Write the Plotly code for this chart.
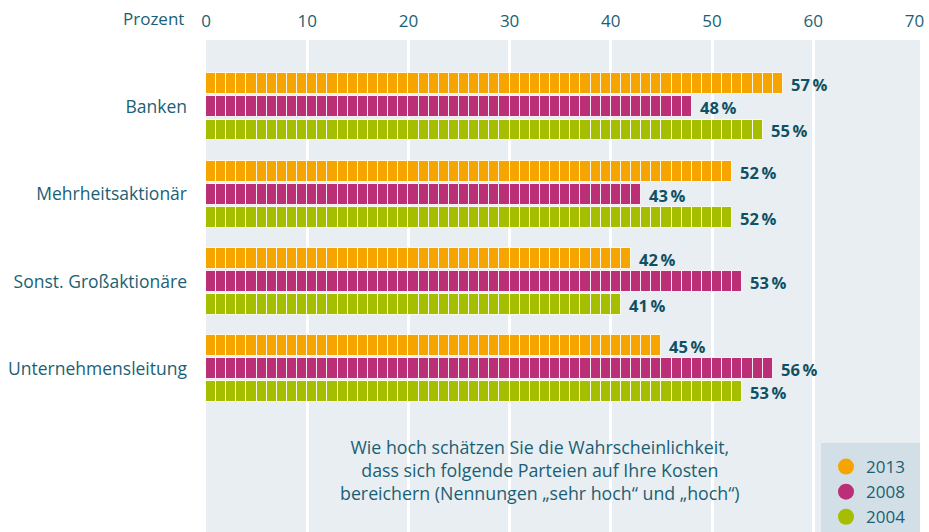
import plotly.graph_objects as go

categories = ["Banken", "Mehrheitsaktionär", "Sonst. Großaktionäre", "Unternehmensleitung"]
years = ["2013", "2008", "2004"]
values_2013 = [57, 52, 42, 45]
values_2008 = [48, 43, 53, 56]
values_2004 = [55, 52, 41, 53]
series_values = [values_2013, values_2008, values_2004]
colors = ["#f6a500", "#bb2f77", "#a5be00"]
x_ticks = [0, 10, 20, 30, 40, 50, 60, 70]
grid_values = [10, 20, 30, 40, 50, 60]

TEXT = "#1b5f74"
LABEL = "#0f5164"
FONT = "Open Sans"
X_RANGE = [0, 70.55]

offsets = [-0.2635, 0.0, 0.2635]
bar_h = 0.24

fig = go.Figure()
for s, (name, vals, col) in enumerate(zip(years, series_values, colors)):
    xs, bases, ys = [], [], []
    for c, v in enumerate(vals):
        for k in range(int(v)):
            xs.append(1)
            bases.append(k)
            ys.append(c + offsets[s])
    fig.add_trace(go.Bar(
        x=xs, base=bases, y=ys, orientation="h", width=bar_h,
        marker=dict(color=col, line=dict(color="rgba(255,255,255,0.85)", width=1)),
        showlegend=False, hoverinfo="skip",
    ))
    for c, v in enumerate(vals):
        fig.add_annotation(x=v, y=c + offsets[s], text=f"{v}\u2009%", showarrow=False,
                           xanchor="left", xshift=6, yshift=-1,
                           font=dict(family=FONT, size=16.5, color=LABEL, weight="bold"))

for name, col in zip(years, colors):
    fig.add_trace(go.Scatter(x=[None], y=[None], mode="markers", name=name,
                             marker=dict(color=col, size=17, symbol="circle")))

# axis carrying the tick labels (no grid)
fig.add_trace(go.Scatter(x=[None], y=[None], xaxis="x2", showlegend=False, hoverinfo="skip"))

# legend box
fig.add_shape(type="rect", xref="paper", yref="paper", x0=(821 - 206) / 714, x1=1.0,
              y0=0, y1=1 - (443 - 40) / 492, fillcolor="#d3dfe6", line=dict(width=0), layer="above")

fig.add_annotation(x=33, y=4.16, xref="x", yref="y",
                   text="Wie hoch schätzen Sie die Wahrscheinlichkeit,<br>dass sich folgende Parteien auf Ihre Kosten<br>bereichern (Nennungen „sehr hoch“ und „hoch“)",
                   showarrow=False, align="center",
                   font=dict(family=FONT, size=17.8, color=TEXT))

fig.add_annotation(xref="paper", yref="paper", x=-0.028, y=1, yanchor="bottom", xanchor="right",
                   yshift=8, text="Prozent", showarrow=False,
                   font=dict(family=FONT, size=17, color=TEXT))

fig.update_layout(
    width=929, height=532,
    margin=dict(l=206, r=9, t=40, b=0, autoexpand=False),
    paper_bgcolor="white", plot_bgcolor="#e9eef2",
    barmode="overlay", bargap=0,
    font=dict(family=FONT, color=TEXT),
    legend=dict(x=(826 - 206) / 714, y=1 - (449 - 40) / 492, xanchor="left", yanchor="top",
                bgcolor="rgba(0,0,0,0)", font=dict(family=FONT, size=17, color=TEXT),
                itemwidth=30, tracegroupgap=0),
    xaxis=dict(range=X_RANGE, tickvals=grid_values, showticklabels=False, showgrid=True,
               gridcolor="white", gridwidth=3, zeroline=False, showline=False, ticks="",
               fixedrange=True, automargin=False),
    xaxis2=dict(side="top", overlaying="x", range=X_RANGE, tickvals=x_ticks, showgrid=False,
                zeroline=False, showline=False,
                tickfont=dict(family=FONT, size=17, color=TEXT), ticks="", ticklabelstandoff=9,
                fixedrange=True, automargin=False),
    yaxis=dict(range=[4.868, -0.767], tickvals=[0, 1, 2, 3], ticktext=categories,
               showgrid=False, zeroline=False, showline=False, ticks="", automargin=False,
               fixedrange=True,
               tickfont=dict(family=FONT, size=17.5, color=TEXT), ticklabelstandoff=18),
)

fig.write_html("out.html", config={"displayModeBar": False},
               post_script="document.body.style.margin='0';document.body.style.overflow='hidden';")
